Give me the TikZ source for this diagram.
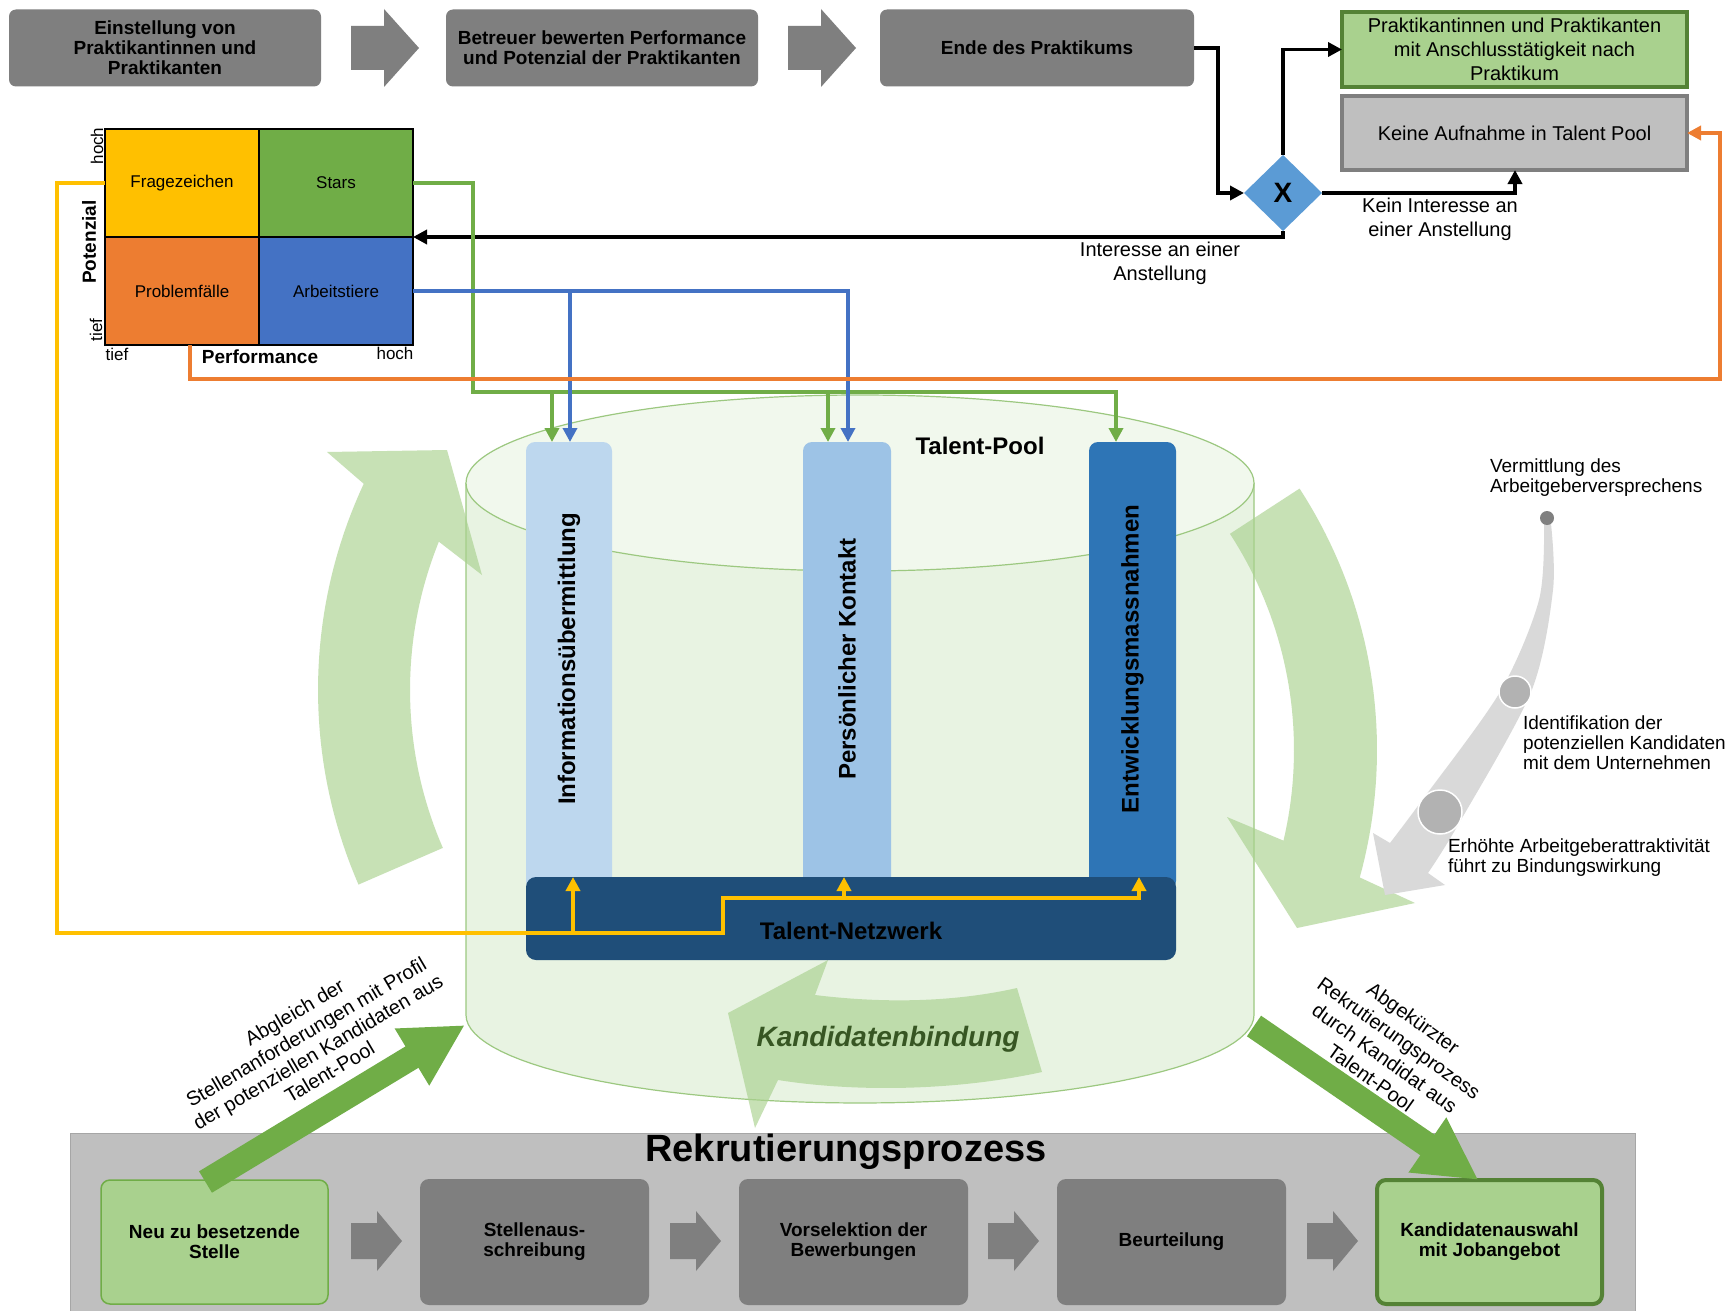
\documentclass[tikz,border=0pt]{standalone}
\usepackage{fontspec}
\setmainfont{Liberation Sans}
\usetikzlibrary{arrows.meta,shapes.geometric,calc}
\definecolor{boxgray}{RGB}{127,127,127}
\definecolor{lgreen}{RGB}{169,209,142}
\definecolor{mgreen}{RGB}{112,173,71}
\definecolor{dkgreen}{RGB}{84,130,53}
\definecolor{lgray}{RGB}{191,191,191}
\definecolor{bordgray}{RGB}{166,166,166}
\definecolor{myellow}{RGB}{255,192,0}
\definecolor{morange}{RGB}{237,125,49}
\definecolor{mblue}{RGB}{68,114,196}
\definecolor{dblue}{RGB}{91,155,213}
\definecolor{pba}{RGB}{189,215,238}
\definecolor{pbb}{RGB}{157,195,230}
\definecolor{pbc}{RGB}{46,117,182}
\definecolor{netzblue}{RGB}{31,78,121}
\definecolor{cylbody}{RGB}{232,243,226}
\definecolor{cyltop}{RGB}{241,248,237}
\definecolor{cylline}{RGB}{156,200,128}
\definecolor{bandgray}{RGB}{217,217,217}
\definecolor{dotgray}{RGB}{128,128,128}
\definecolor{circgray}{RGB}{178,178,178}
\definecolor{kbg}{RGB}{55,86,35}
\begin{document}
\begin{tikzpicture}[x=1pt,y=-1pt,
  every node/.style={inner sep=0pt,outer sep=0pt},
  tbox/.style={fill=boxgray,rounded corners=7pt,minimum width=312pt,minimum height=77pt,align=center,font=\bfseries\fontsize{19pt}{20pt}\selectfont},
  bbox/.style={fill=boxgray,rounded corners=9pt,minimum width=229pt,minimum height=126pt,align=center,font=\bfseries\fontsize{19pt}{20pt}\selectfont},
  cell/.style={draw=black,line width=1.5pt,minimum width=154pt,minimum height=108pt,font=\fontsize{17pt}{17pt}\selectfont},
  pill/.style={rounded corners=9pt,minimum height=448pt},
  pilltext/.style={rotate=90,font=\bfseries\fontsize{24pt}{24pt}\selectfont},
  lbl/.style={align=center,font=\fontsize{20pt}{24pt}\selectfont},
  rlbl/.style={align=left,anchor=west,font=\fontsize{19pt}{20pt}\selectfont},
  small/.style={font=\fontsize{17pt}{17pt}\selectfont},
  blk/.style={line width=3.8pt,-{Triangle[length=14pt,width=14pt]}},
  col/.style={line width=3.5pt,-{Triangle[length=14pt,width=14pt]}},
  arcgreen/.style={fill=lgreen,fill opacity=0.65},
  garrow/.style={fill=boxgray}
]
\useasboundingbox (0,0) rectangle (1730,1311);
\fill[white] (0,0) rectangle (1730,1311);

% ---------- top row ----------
\node[tbox] (t1) at (165,48) {Einstellung von\\Praktikantinnen und\\Praktikanten};
\node[tbox] (t2) at (602,48) {Betreuer bewerten Performance\\und Potenzial der Praktikanten};
\node[tbox,minimum width=314pt] (t3) at (1037,48) {Ende des Praktikums};
\fill[garrow] (351,26) -- (384,26) -- (384,9) -- (419,48) -- (384,87) -- (384,70) -- (351,70) -- cycle;
\fill[garrow] (788,26) -- (821,26) -- (821,9) -- (856,48) -- (821,87) -- (821,70) -- (788,70) -- cycle;

\node[draw=dkgreen,line width=4pt,fill=lgreen,minimum width=345pt,minimum height=75pt,align=center,font=\fontsize{20pt}{24pt}\selectfont] (gr) at (1514.5,49.5) {Praktikantinnen und Praktikanten\\mit Anschlusstätigkeit nach\\Praktikum};
\node[draw=boxgray,line width=4pt,fill=lgray,minimum width=345pt,minimum height=74pt,font=\fontsize{20pt}{24pt}\selectfont] (ga) at (1514.5,133) {Keine Aufnahme in Talent Pool};
\node[diamond,fill=dblue,minimum width=78pt,minimum height=76pt,font=\bfseries\fontsize{28pt}{28pt}\selectfont] (dia) at (1283,193) {X};

\node[lbl] (lkein) at (1440,219) {Kein Interesse an\\einer Anstellung};
\node[lbl] (lint) at (1160,263) {Interesse an einer\\Anstellung};

% ---------- matrix ----------
\node[cell,fill=myellow] (frag) at (182,183) {Fragezeichen};
\node[cell,fill=mgreen] (stars) at (336,183) {Stars};
\node[cell,fill=morange] (prob) at (182,291) {Problemfälle};
\node[cell,fill=mblue] (arb) at (336,291) {Arbeitstiere};
\node[small,rotate=90] (lhoch) at (97,146) {hoch};
\node[rotate=90,font=\bfseries\fontsize{19pt}{19pt}\selectfont] (lpot) at (89,242) {Potenzial};
\node[small,rotate=90] (ltief) at (96,330) {tief};
\node[small] (btief) at (117,354) {tief};
\node[font=\bfseries\fontsize{19pt}{19pt}\selectfont] (bperf) at (260,357) {Performance};
\node[small] (bhoch) at (395,353) {hoch};

% ---------- bottom bar ----------
\fill[lgray] (70,1133) rectangle (1635,1311);
\draw[bordgray,line width=1pt] (70,1311) -- (70,1133) -- (1635,1133) -- (1635,1311);

% ---------- cylinder ----------
\fill[cylbody] (466,483) -- plot[domain=180:0,samples=60] ({860+394*cos(\x)},{1015+88*sin(\x)}) -- plot[domain=0:-180,samples=60] ({860+394*cos(\x)},{483+88*sin(\x)}) -- cycle;
\draw[cylline,line width=1.2pt] (466,483) -- plot[domain=180:0,samples=60] ({860+394*cos(\x)},{1015+88*sin(\x)}) -- (1254,483);
\filldraw[fill=cyltop,draw=cylline,line width=1.2pt] (860,483) ellipse [x radius=394pt,y radius=88pt];

% ---------- circular arrows ----------
\fill[arcgreen] plot[domain=156.5:205,samples=40] ({806+488*cos(\x)},{690+488*sin(\x)}) -- (327,452) -- (447,450) -- (482,575) -- plot[domain=202:156.5,samples=40] ({806+396*cos(\x)},{690+396*sin(\x)}) -- cycle;
\fill[arcgreen] plot[domain=-33:15.4,samples=40] ({897+480*cos(\x)},{750+480*sin(\x)}) -- (1415,903) -- (1297,928) -- (1227,817) -- plot[domain=13.2:-33,samples=40] ({897+397*cos(\x)},{750+397*sin(\x)}) -- cycle;
\fill[arcgreen] (1017,988) .. controls (950,1003) and (880,1003) .. (815,995) -- (828,960) -- (728,1013) -- (755,1128) -- (778,1080) .. controls (860,1093) and (960,1090) .. (1042,1072) -- cycle;

% ---------- pillars ----------
\node[pill,fill=pba,minimum width=86pt] (p1) at (569,666) {};
\node[pill,fill=pbb,minimum width=88pt] (p2) at (847,666) {};
\node[pill,fill=pbc,minimum width=87pt] (p3) at (1132.5,666) {};
\node[pilltext] (p1t) at (569,659) {Informationsübermittlung};
\node[pilltext] (p2t) at (847,659) {Persönlicher Kontakt};
\node[pilltext] (p3t) at (1132.5,659) {Entwicklungsmassnahmen};
\node[fill=netzblue,rounded corners=10pt,minimum width=650pt,minimum height=83pt] (netz) at (851,918.5) {};
\node[font=\bfseries\fontsize{24pt}{24pt}\selectfont] (netzt) at (851,931) {Talent-Netzwerk};
\node[font=\bfseries\fontsize{24pt}{24pt}\selectfont] (tpool) at (980,446) {Talent-Pool};
\node[font=\bfseries\itshape\fontsize{28pt}{28pt}\selectfont,text=kbg] (kb) at (888,1039) {Kandidatenbindung};

% ---------- gray curved arrow ----------
\fill[bandgray] plot[smooth] coordinates {(1544,524) (1539,600) (1500,692) (1423,799) (1390,843)} -- (1373,833) -- (1385,895) -- (1445,885) -- (1428,873) -- plot[smooth] coordinates {(1428,873) (1458,825) (1531,692) (1553,590) (1551,524)} -- cycle;
\node[circle,fill=dotgray,minimum size=14pt] (d1) at (1547,518) {};
\node[circle,fill=circgray,draw=white,line width=1.5pt,minimum size=32pt] (d2) at (1515,692) {};
\node[circle,fill=circgray,draw=white,line width=1.5pt,minimum size=44pt] (d3) at (1440,812) {};
\node[rlbl] (v1) at (1490,478) {Vermittlung des\\Arbeitgeberversprechens};
\node[rlbl] (v2) at (1523,743) {Identifikation der\\potenziellen Kandidaten\\mit dem Unternehmen};
\node[rlbl] (v3) at (1448,858) {Erhöhte Arbeitgeberattraktivität\\führt zu Bindungswirkung};

% ---------- recruiting process ----------
\node[font=\bfseries\fontsize{38pt}{38pt}\selectfont] (rk) at (846,1152) {Rekrutierungsprozess};
\node[bbox,fill=lgreen,draw=mgreen,line width=1.5pt,minimum width=227pt,minimum height=124pt] (b1) at (214.5,1242) {Neu zu besetzende\\Stelle};
\node[bbox] (b2) at (534.5,1242) {Stellenaus-\\schreibung};
\node[bbox] (b3) at (853.5,1242) {Vorselektion der\\Bewerbungen};
\node[bbox] (b4) at (1171.5,1242) {Beurteilung};
\node[bbox,fill=lgreen,draw=dkgreen,line width=4pt,minimum width=225pt,minimum height=124pt] (b5) at (1489.5,1242) {Kandidatenauswahl\\mit Jobangebot};
\foreach \s in {351,670,988,1307}
  \fill[garrow] (\s,1223) -- (\s+26,1223) -- (\s+26,1211) -- (\s+51,1241) -- (\s+26,1271) -- (\s+26,1259) -- (\s,1259) -- cycle;

% ---------- connectors ----------
\draw[blk] (t3.east) -- (1218,48) -- (1218,193) -- (dia.west);
\draw[blk] (dia.north) -- (1283,49.5) -- (gr.west);
\draw[blk] (dia.east) -- (1515,193) -- (1515,193 |- ga.south);
\draw[blk] (dia.south) -- (1283,237) -- (stars.south east);

\draw[col,mgreen] (stars.east) -- (473,183) -- (473,392) -- (1116,392) -- (1116,392 |- p3.north);
\draw[col,mgreen] (552,392) -- (552,392 |- p1.north);
\draw[col,mgreen] (828,392) -- (828,392 |- p2.north);
\draw[col,mblue] (arb.east) -- (848,291) -- (848,291 |- p2.north);
\draw[col,mblue] (570,291) -- (570,291 |- p1.north);
\draw[col,morange] ($(prob.south)+(8,0)$) -- (190,379) -- (1720,379) -- (1720,133) -- (ga.east);
\draw[col,myellow] (frag.west) -- (57,183) -- (57,933) -- (723,933) -- (723,898) -- (1139,898) -- (1139,898 |- netz.north);
\draw[col,myellow] (573,933) -- (573,933 |- netz.north);
\draw[col,myellow] (844,898) -- (844,898 |- netz.north);

% ---------- big green arrows ----------
\coordinate (cylL) at (465,1025);
\coordinate (cylR) at (1254,1026);
\draw[mgreen,line width=25pt,-{Triangle[length=62pt,width=62pt]}] ($(b1.north)+(-9,2)$) -- (cylL);
\draw[mgreen,line width=25pt,-{Triangle[length=62pt,width=62pt]}] (cylR) -- ($(b5.north)+(-11,0)$);
\node[rotate=30.5,align=center,font=\fontsize{20pt}{23pt}\selectfont] (dl) at (312,1042) {Abgleich der\\Stellenanforderungen mit Profil\\der potenziellen Kandidaten aus\\Talent-Pool};
\node[rotate=-35.5,align=center,font=\fontsize{20pt}{24.5pt}\selectfont] (dr) at (1392,1048) {Abgekürzter\\Rekrutierungsprozess\\durch Kandidat aus\\Talent-Pool};
\end{tikzpicture}
\end{document}
